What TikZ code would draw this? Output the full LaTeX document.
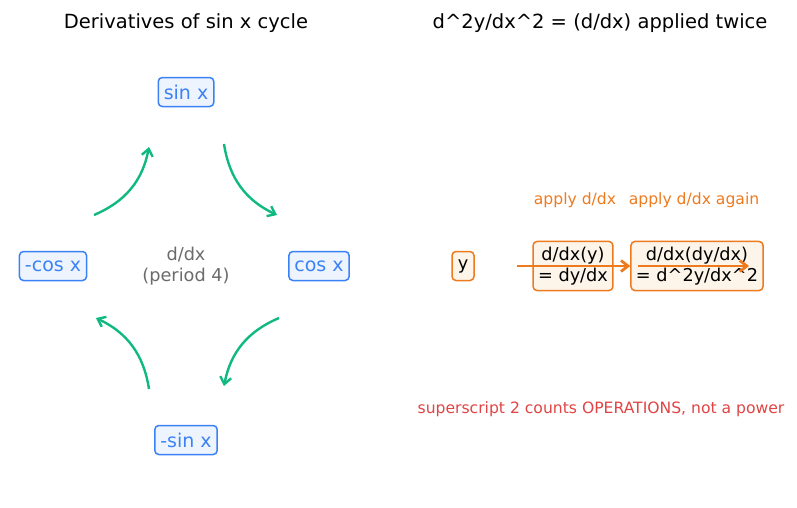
\documentclass[tikz,border=0pt]{standalone}
\usepackage{fontspec}
\setmainfont{DejaVu Sans}
\usetikzlibrary{arrows.meta}
\definecolor{cblue}{HTML}{3B82F6}
\definecolor{cbluefill}{HTML}{EEF4FE}
\definecolor{corange}{HTML}{EE7A1E}
\definecolor{corangefill}{HTML}{FDF5EA}
\definecolor{cgreen}{HTML}{10B981}
\definecolor{cred}{HTML}{E04444}
\definecolor{cgray}{HTML}{6B6B6B}
\begin{document}
\begin{tikzpicture}[x=1pt,y=1pt,
  titlestyle/.style={font=\fontsize{19.5}{23}\selectfont, text=black},
  bluebox/.style={draw=cblue, fill=cbluefill, line width=1.5pt, rounded corners=4pt,
    text=cblue, font=\fontsize{19}{23}\selectfont, inner xsep=5.5pt, minimum height=29pt},
  orangebox/.style={draw=corange, fill=corangefill, line width=1.5pt, rounded corners=4pt,
    text=black, font=\fontsize{17.7}{21}\selectfont, inner xsep=5pt, inner ysep=5.5pt, align=center},
  cyclearrow/.style={draw=cgreen, line width=2.4pt, -{Straight Barb[length=7pt,width=11pt,line width=2.4pt]}},
  steparrow/.style={draw=corange, line width=2.8pt, -{Straight Barb[length=7pt,width=11pt,line width=2.8pt]}},
  notelabel/.style={font=\fontsize{15.6}{18}\selectfont}
]
\useasboundingbox (0,0) rectangle (797,-507);

% titles
\node[titlestyle] (t1) at (186,-23) {Derivatives of sin x cycle};
\node[titlestyle] (t2) at (600,-23) {d\textasciicircum 2y/dx\textasciicircum 2 = (d/dx) applied twice};

% cycle nodes
\node[bluebox] (sin) at (186,-92) {sin x};
\node[bluebox] (cos) at (319,-266) {cos x};
\node[bluebox] (ncos) at (53,-266) {-cos x};
\node[bluebox] (nsin) at (186,-440) {-sin x};
\node[text=cgray, align=center, font=\fontsize{17.7}{21}\selectfont] (center) at (186,-266) {d/dx\\(period 4)};

% green arrow endpoints
\coordinate (a1s) at (224,-144); \coordinate (a1e) at (277,-215);
\coordinate (a2s) at (279,-318); \coordinate (a2e) at (224,-386);
\coordinate (a3s) at (149,-389); \coordinate (a3e) at (96,-318);
\coordinate (a4s) at (94,-215);  \coordinate (a4e) at (149,-147);
\draw[cyclearrow] (a1s) to[bend right=28] (a1e);
\draw[cyclearrow] (a2s) to[bend right=28] (a2e);
\draw[cyclearrow] (a3s) to[bend right=28] (a3e);
\draw[cyclearrow] (a4s) to[bend right=28] (a4e);

% right side
\node[orangebox, minimum height=29pt, minimum width=22pt, inner xsep=3pt] (y) at (463,-266) {y};
\node[orangebox] (b1) at (573,-266) {d/dx(y)\\= dy/dx};
\node[orangebox] (b2) at (697,-266) {d/dx(dy/dx)\\= d\textasciicircum 2y/dx\textasciicircum 2};

\coordinate (s1s) at (517,-266);
\coordinate (s2s) at (638,-266); \coordinate (s2e) at (749,-266);
\draw[steparrow] (s1s) -- (b2.west);
\draw[steparrow] (s2s) -- (s2e);

\node[notelabel, text=corange] (l1) at (575,-200) {apply d/dx};
\node[notelabel, text=corange] (l2) at (694,-200) {apply d/dx again};
\node[notelabel, text=cred] (note) at (601,-409) {superscript 2 counts OPERATIONS, not a power};
\end{tikzpicture}
\end{document}
